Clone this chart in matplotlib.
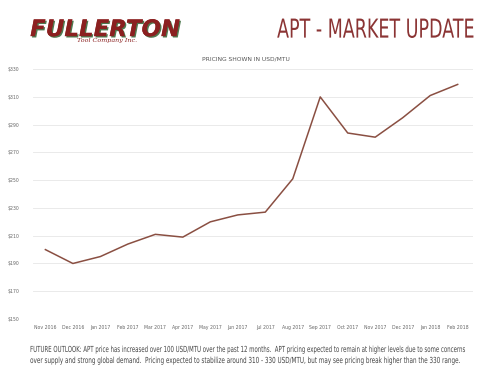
import matplotlib.pyplot as plt
import matplotlib.patheffects as pe
from matplotlib.transforms import Affine2D

# price data, USD/MTU
months = ['Nov 2016', 'Dec 2016', 'Jan 2017', 'Feb 2017', 'Mar 2017', 'Apr 2017',
          'May 2017', 'Jun 2017', 'Jul 2017', 'Aug 2017', 'Sep 2017', 'Oct 2017',
          'Nov 2017', 'Dec 2017', 'Jan 2018', 'Feb 2018']
prices = [200, 190, 195, 204, 211, 209, 220, 225, 227, 251, 310, 284, 281, 295, 311, 319]
yticks = [150, 170, 190, 210, 230, 250, 270, 290, 310, 330]


# squeeze text horizontally (no condensed fonts installed)
class Condense(pe.AbstractPathEffect):
    def __init__(self, sx):
        super().__init__()
        self.sx = sx

    def draw_path(self, renderer, gc, tpath, affine, rgbFace=None):
        renderer.draw_path(gc, tpath, Affine2D().scale(self.sx, 1) + affine, rgbFace)


fig = plt.figure(figsize=(4.93, 3.80), dpi=100)
ax = fig.add_axes([0.067, 0.1605, 0.892, 0.6575])

x = range(len(months))
ax.plot(x, prices, color='#8a4f42', linewidth=1.1)

ax.set_ylim(150, 330)
ax.set_xlim(-0.45, 15.55)
ax.set_yticks(yticks)
ax.set_yticklabels(['$%d' % v for v in yticks])
ax.set_xticks(list(x))
ax.set_xticklabels(months)
ax.tick_params(axis='both', length=0, labelsize=3.3, labelcolor='#666666')
ax.tick_params(axis='y', pad=10)
ax.tick_params(axis='x', pad=4)
ax.grid(axis='y', color='#e6e6e6', linewidth=0.6)
ax.set_axisbelow(True)
for s in ax.spines.values():
    s.set_visible(False)

# header
fig.text(0.061, 0.905, 'FULLERTON', fontsize=16.5, fontweight='bold', style='italic',
         family='DejaVu Sans', color='#8b2020', va='baseline',
         path_effects=[pe.withSimplePatchShadow(offset=(1.0, -1.0), shadow_rgbFace='#3c6b3c', alpha=0.9),
                       pe.Normal()])
fig.text(0.157, 0.889, 'Tool Company Inc.', fontsize=4.6, style='italic',
         family='DejaVu Serif', color='#8b2020', va='baseline')
fig.text(0.562, 0.901, 'APT - MARKET UPDATE', fontsize=18.8, family='DejaVu Sans',
         color='#8b3434', ha='left', va='baseline', path_effects=[Condense(0.67)])
fig.text(0.499, 0.845, 'PRICING SHOWN IN USD/MTU', fontsize=4.3, family='DejaVu Sans',
         color='#555555', ha='center', va='center')

note1 = ('FUTURE OUTLOOK: APT price has increased over 100 USD/MTU over the past 12 months.  '
         'APT pricing expected to remain at higher levels due to some concerns')
note2 = ('over supply and strong global demand.  Pricing expected to stabilize around 310 - 330 USD/MTU, '
         'but may see pricing break higher than the 330 range.')
fig.text(0.061, 1 - 352 / 380, note1, fontsize=6, family='DejaVu Sans', color='#444444',
         va='baseline', path_effects=[Condense(0.65)])
fig.text(0.061, 1 - 363 / 380, note2, fontsize=6, family='DejaVu Sans', color='#444444',
         va='baseline', path_effects=[Condense(0.68)])

fig.savefig('out.png', dpi=100)
